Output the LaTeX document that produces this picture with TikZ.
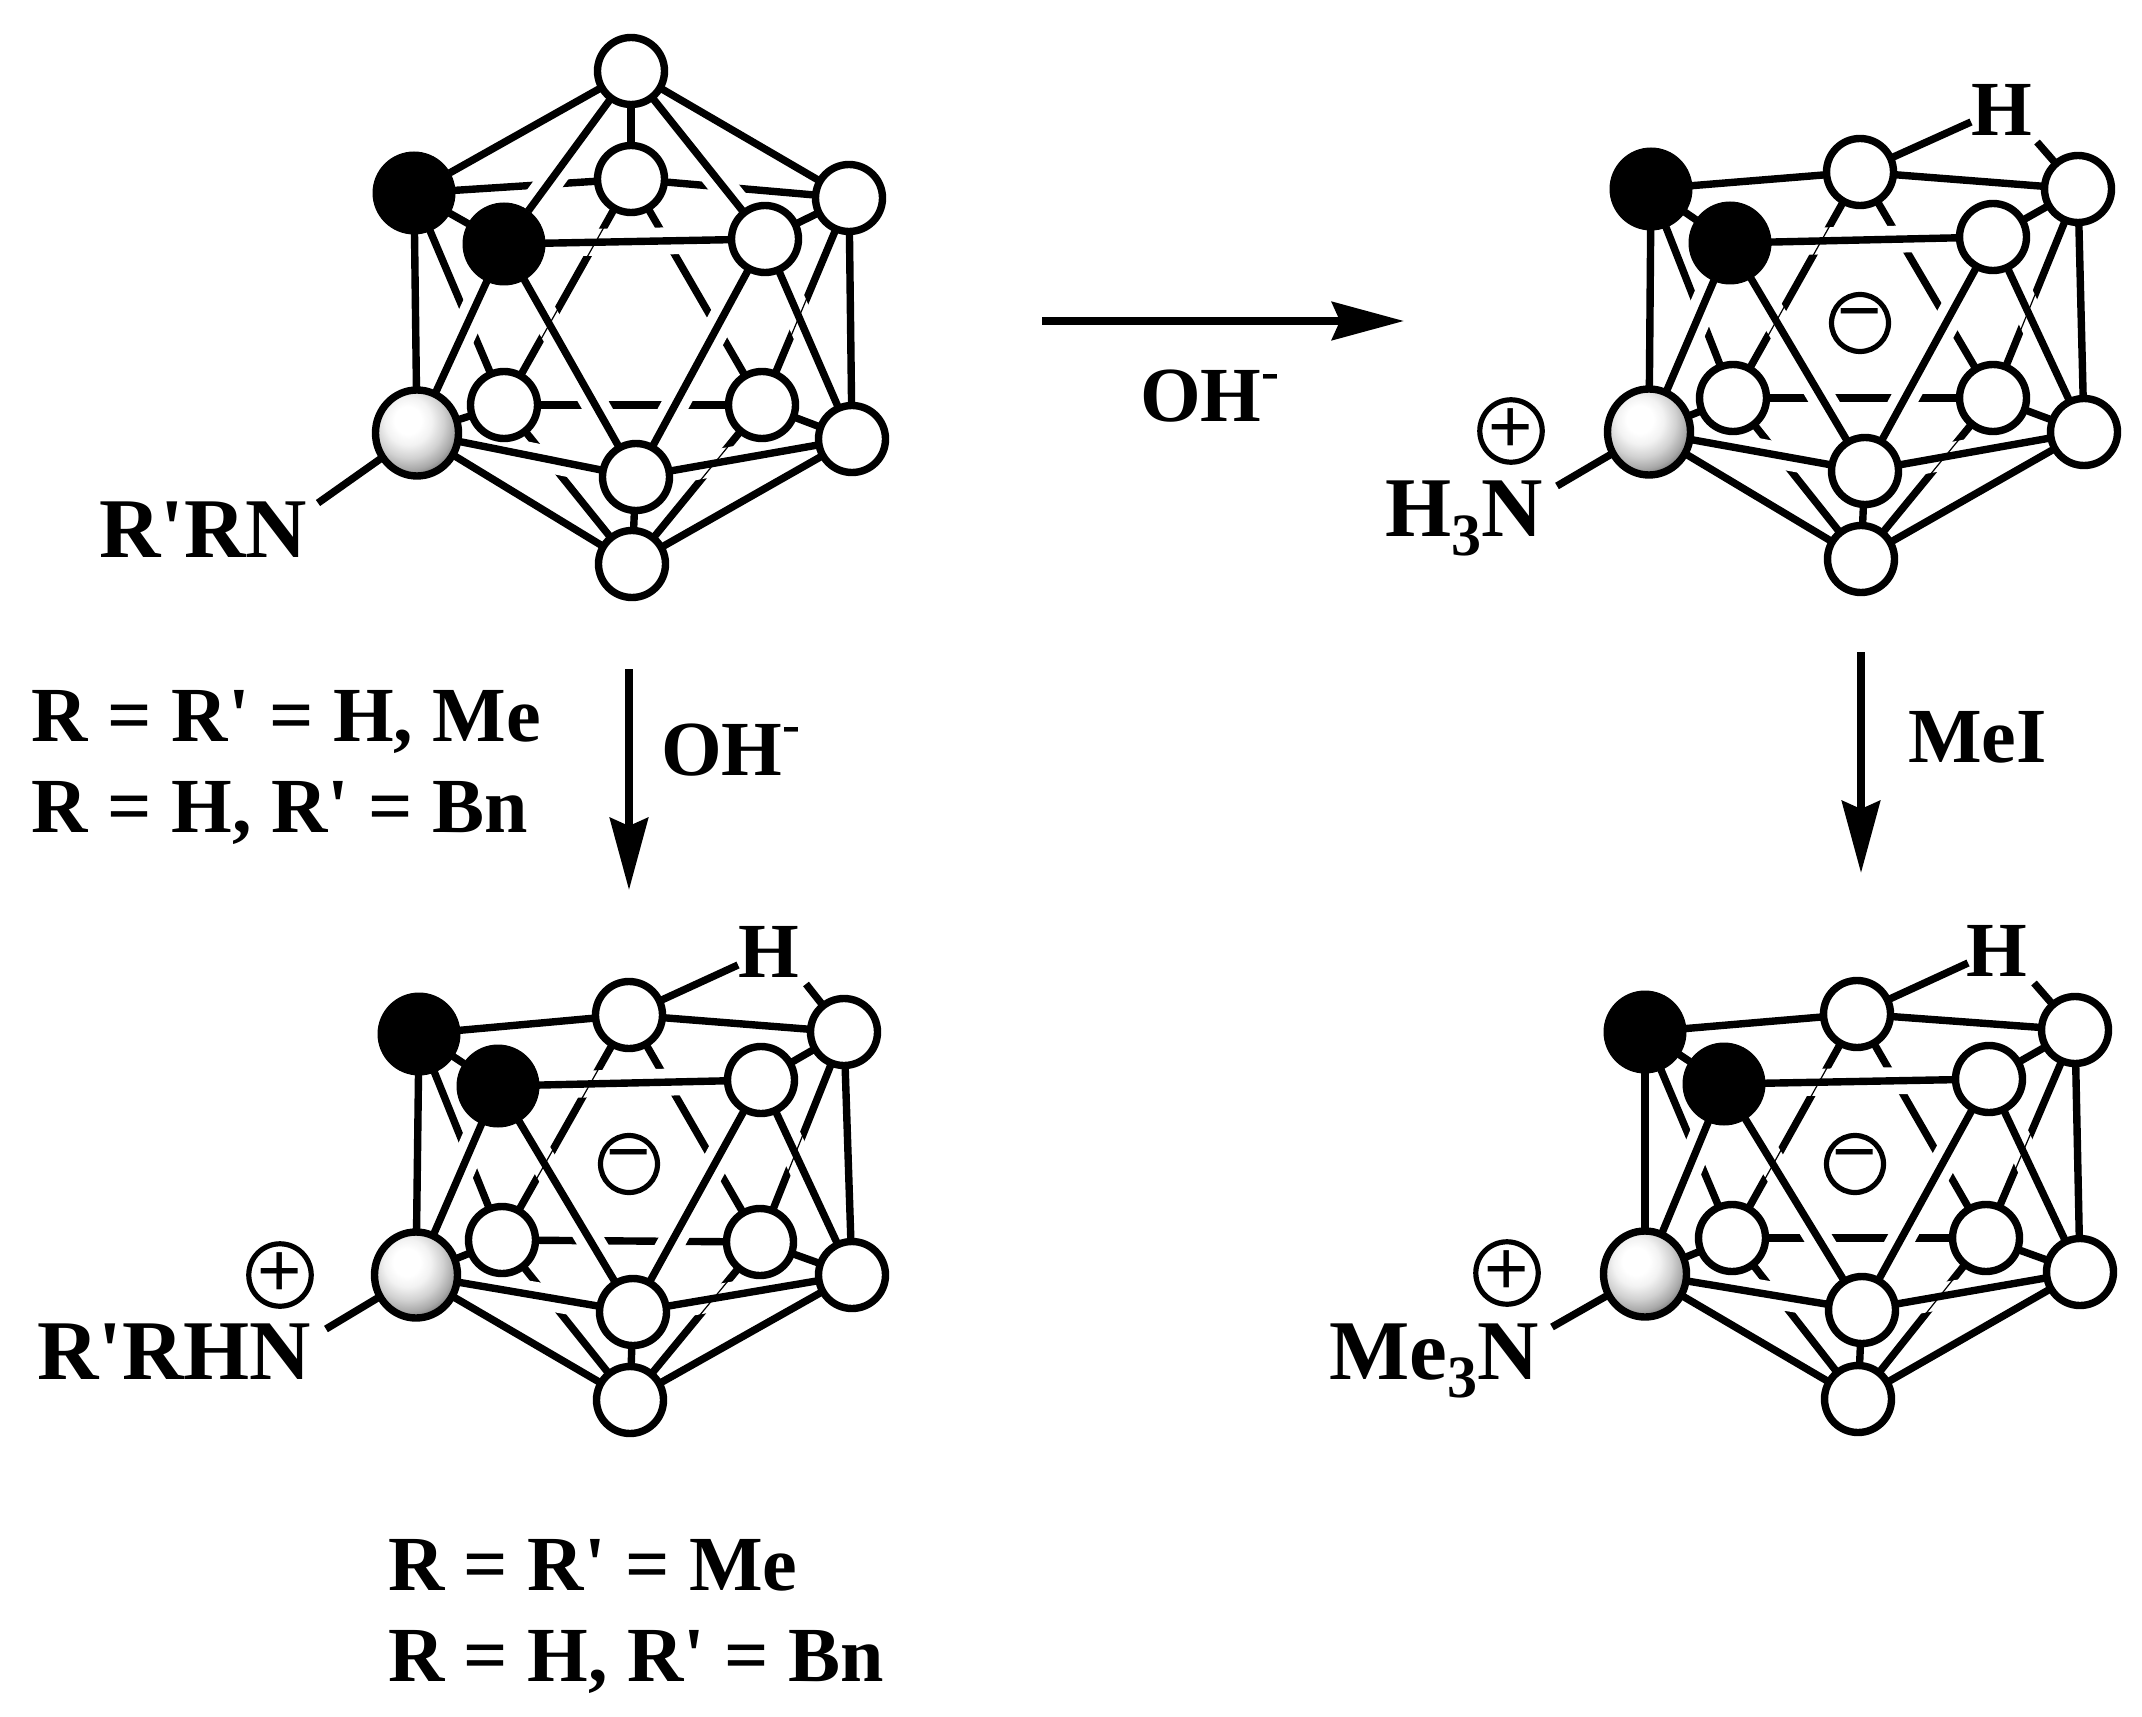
\documentclass[tikz,border=0pt]{standalone}
\usepackage{fontspec}
\usetikzlibrary{shapes.geometric,arrows.meta}
\newfontfamily\labfont{Liberation Serif}
\newfontfamily\signfont{Liberation Sans}
\pgfdeclarelayer{hiddenl}\pgfdeclarelayer{halol}\pgfdeclarelayer{thinl}\pgfdeclarelayer{frontl}
\pgfsetlayers{hiddenl,halol,thinl,frontl,main}
\definecolor{ba}{gray}{1}\definecolor{bb}{gray}{.95}\definecolor{bc}{gray}{.82}\definecolor{bd}{gray}{.66}\definecolor{be}{gray}{.44}\definecolor{bf}{gray}{.26}
\pgfdeclareradialshading{ballg}{\pgfpoint{-6bp}{8bp}}{color(0bp)=(ba); color(8bp)=(ba); color(14bp)=(bb); color(21bp)=(bc); color(27bp)=(bd); color(32bp)=(be); color(36bp)=(bf); color(100bp)=(bf)}
\tikzset{
 x=.5pt,y=-.5pt,
 atomw/.style={ellipse,draw=black,line width=3.7pt,fill=white,inner sep=0pt,outer sep=0pt,minimum width=33.5pt,minimum height=33.5pt},
 atomk/.style={ellipse,draw=black,line width=.5pt,fill=black,inner sep=0pt,outer sep=0pt,minimum width=41pt,minimum height=41pt},
 atomg/.style={ellipse,draw=black,line width=3.7pt,shade,shading=ballg,inner sep=0pt,outer sep=0pt,minimum width=41.5pt,minimum height=43pt},
 bond/.style={line width=3.7pt,draw=black},
 halo/.style={line width=13.5pt,draw=white},
 hair/.style={line width=.6pt,draw=black},
 lab/.style={font=\labfont\bfseries\fontsize{39}{42}\selectfont,inner sep=0pt,outer sep=0pt,text=black},
 labm/.style={font=\labfont\bfseries\fontsize{42.5}{46}\selectfont,inner sep=0pt,outer sep=0pt,text=black},
 sign/.style={circle,draw=black,line width=2.6pt,inner sep=0pt,outer sep=0pt,minimum size=28.5pt,text=black,font=\signfont\fontsize{38}{38}\selectfont},
 flow/.style={line width=3.9pt,draw=black,-{Stealth[length=36pt,width=19pt,inset=4pt]}},
}
\newcommand{\hid}[3]{\begin{pgfonlayer}{hiddenl}\draw[bond] (#1#2) -- (#1#3);\end{pgfonlayer}}
\newcommand{\frn}[3]{\begin{pgfonlayer}{halol}\draw[halo] (#1#2) -- (#1#3);\end{pgfonlayer}\begin{pgfonlayer}{frontl}\draw[bond] (#1#2) -- (#1#3);\end{pgfonlayer}}
\newcommand{\solid}[3]{\begin{pgfonlayer}{frontl}\draw[bond] (#1#2) -- (#1#3);\end{pgfonlayer}}
\newcommand{\thn}[3]{\begin{pgfonlayer}{thinl}\draw[hair] (#1#2) -- (#1#3);\end{pgfonlayer}}
\newcommand{\cage}[1]{%
 \hid{#1}{bt}{bl}\hid{#1}{bt}{br}\hid{#1}{bl}{br}\hid{#1}{bl}{ka}\hid{#1}{br}{rt}\hid{#1}{bl}{gr}\hid{#1}{br}{rb}\hid{#1}{bl}{bo}\hid{#1}{br}{bo}%
 \thn{#1}{bt}{bl}\thn{#1}{br}{rt}\thn{#1}{br}{bo}%
 \frn{#1}{kb}{fr}\frn{#1}{kb}{gr}\frn{#1}{kb}{fb}\frn{#1}{fr}{fb}\frn{#1}{fr}{rb}\frn{#1}{gr}{fb}\frn{#1}{fb}{rb}%
 \solid{#1}{fb}{bo}\solid{#1}{ka}{kb}\solid{#1}{fr}{rt}\solid{#1}{ka}{gr}\solid{#1}{rt}{rb}\solid{#1}{gr}{bo}\solid{#1}{rb}{bo}%
}
\newcommand{\minussign}{\raisebox{-2.2pt}{−}}
\begin{document}
\begin{tikzpicture}
\useasboundingbox (0,0) rectangle (2142,1717);
% molecule A
\node[atomw] (atp) at (631,71) {};
\node[atomw] (abt) at (631,179) {};
\node[atomk] (aka) at (414,193) {};
\node[atomk] (akb) at (504,244) {};
\node[atomw] (art) at (849,198) {};
\node[atomw] (afr) at (765,239) {};
\node[atomg] (agr) at (417,433) {};
\node[atomw] (abl) at (504,405) {};
\node[atomw] (abr) at (762,405) {};
\node[atomw] (arb) at (852,439) {};
\node[atomw] (afb) at (636,477) {};
\node[atomw] (abo) at (632,564) {};
\cage{a}
\hid{a}{bt}{ka}\hid{a}{bt}{rt}\hid{a}{tp}{bt}
\frn{a}{tp}{kb}\frn{a}{tp}{fr}
\solid{a}{tp}{ka}\solid{a}{tp}{rt}
\node[labm,anchor=base east] (ln1) at (307,557) {R'RN};
\coordinate (ae) at (318,503);
\begin{pgfonlayer}{frontl}\draw[bond] (agr) -- (ae);\end{pgfonlayer}
% molecule B
\node[atomw] (bbt) at (1860,172) {};
\node[atomk] (bka) at (1651,189) {};
\node[atomk] (bkb) at (1730,243) {};
\node[atomw] (brt) at (2078,189) {};
\node[atomw] (bfr) at (1993,237) {};
\node[atomg] (bgr) at (1649,432) {};
\node[atomw] (bbl) at (1733,398) {};
\node[atomw] (bbr) at (1993,398) {};
\node[atomw] (brb) at (2084,432) {};
\node[atomw] (bfb) at (1865,471) {};
\node[atomw] (bbo) at (1861,559) {};
\cage{b}
\solid{b}{ka}{bt}\solid{b}{bt}{rt}
\node[sign] (bm) at (1860,323) {\minussign};
\node[sign] (bp) at (1511,431) {+};
\node[lab] (bh) at (2002,110) {H};
\coordinate (bh1) at (1971,122);\coordinate (bh2) at (2037,142);\coordinate (be) at (1557,486);
\begin{pgfonlayer}{frontl}\draw[bond] (bbt) -- (bh1);\draw[bond] (brt) -- (bh2);\draw[bond] (bgr) -- (be);\end{pgfonlayer}
\node[labm,anchor=base east] (ln2) at (1543,537) {H\raisebox{-.22em}{\fontsize{30}{30}\selectfont 3}N};
% molecule C
\node[atomw] (cbt) at (629,1015) {};
\node[atomk] (cka) at (419,1034) {};
\node[atomk] (ckb) at (498,1086) {};
\node[atomw] (crt) at (844,1032) {};
\node[atomw] (cfr) at (761,1080) {};
\node[atomg] (cgr) at (416,1275) {};
\node[atomw] (cbl) at (502,1240) {};
\node[atomw] (cbr) at (760,1242) {};
\node[atomw] (crb) at (852,1275) {};
\node[atomw] (cfb) at (633,1312) {};
\node[atomw] (cbo) at (630,1400) {};
\cage{c}
\solid{c}{ka}{bt}\solid{c}{bt}{rt}
\node[sign] (cm) at (629,1164) {\minussign};
\node[sign] (cp) at (280,1275) {+};
\node[lab] (ch) at (769,952) {H};
\coordinate (ch1) at (738,965);\coordinate (ch2) at (806,984);\coordinate (ce) at (326,1329);
\begin{pgfonlayer}{frontl}\draw[bond] (cbt) -- (ch1);\draw[bond] (crt) -- (ch2);\draw[bond] (cgr) -- (ce);\end{pgfonlayer}
\node[labm,anchor=base east] (ln3) at (311,1379) {R'RHN};
% molecule D
\node[atomw] (dbt) at (1857,1014) {};
\node[atomk] (dka) at (1645,1032) {};
\node[atomk] (dkb) at (1724,1084) {};
\node[atomw] (drt) at (2075,1030) {};
\node[atomw] (dfr) at (1989,1079) {};
\node[atomg] (dgr) at (1645,1274) {};
\node[atomw] (dbl) at (1732,1238) {};
\node[atomw] (dbr) at (1986,1238) {};
\node[atomw] (drb) at (2080,1272) {};
\node[atomw] (dfb) at (1862,1310) {};
\node[atomw] (dbo) at (1858,1399) {};
\cage{d}
\solid{d}{ka}{bt}\solid{d}{bt}{rt}
\node[sign] (dm) at (1855,1164) {\minussign};
\node[sign] (dp) at (1507,1273) {+};
\node[lab] (dh) at (1997,951) {H};
\coordinate (dh1) at (1968,963);\coordinate (dh2) at (2034,983);\coordinate (de) at (1552,1327);
\begin{pgfonlayer}{frontl}\draw[bond] (dbt) -- (dh1);\draw[bond] (drt) -- (dh2);\draw[bond] (dgr) -- (de);\end{pgfonlayer}
\node[labm,anchor=base east] (ln4) at (1539,1379) {Me\raisebox{-.22em}{\fontsize{30}{30}\selectfont 3}N};
% arrows
\coordinate (ar1s) at (1042,321);\coordinate (ar1e) at (1404,321);
\draw[flow] (ar1s) -- (ar1e);
\coordinate (ar2s) at (629,669);\coordinate (ar2e) at (629,890);
\draw[flow] (ar2s) -- (ar2e);
\coordinate (ar3s) at (1861,652);\coordinate (ar3e) at (1861,873);
\draw[flow] (ar3s) -- (ar3e);
% labels
\node[lab,anchor=base west] (t1) at (1140,422) {OH\raisebox{.42em}{\fontsize{27}{27}\selectfont -}};
\node[lab,anchor=base west] (t2) at (661,775) {OH\raisebox{.42em}{\fontsize{27}{27}\selectfont -}};
\node[lab,anchor=base west] (t3) at (1908,762) {MeI};
\node[lab,anchor=base west] (t4) at (32,741) {R = R' = H, Me};
\node[lab,anchor=base west] (t5) at (32,832) {R = H, R' = Bn};
\node[lab,anchor=base west] (t6) at (388,1590) {R = R' = Me};
\node[lab,anchor=base west] (t7) at (388,1681) {R = H, R' = Bn};
\end{tikzpicture}
\end{document}
